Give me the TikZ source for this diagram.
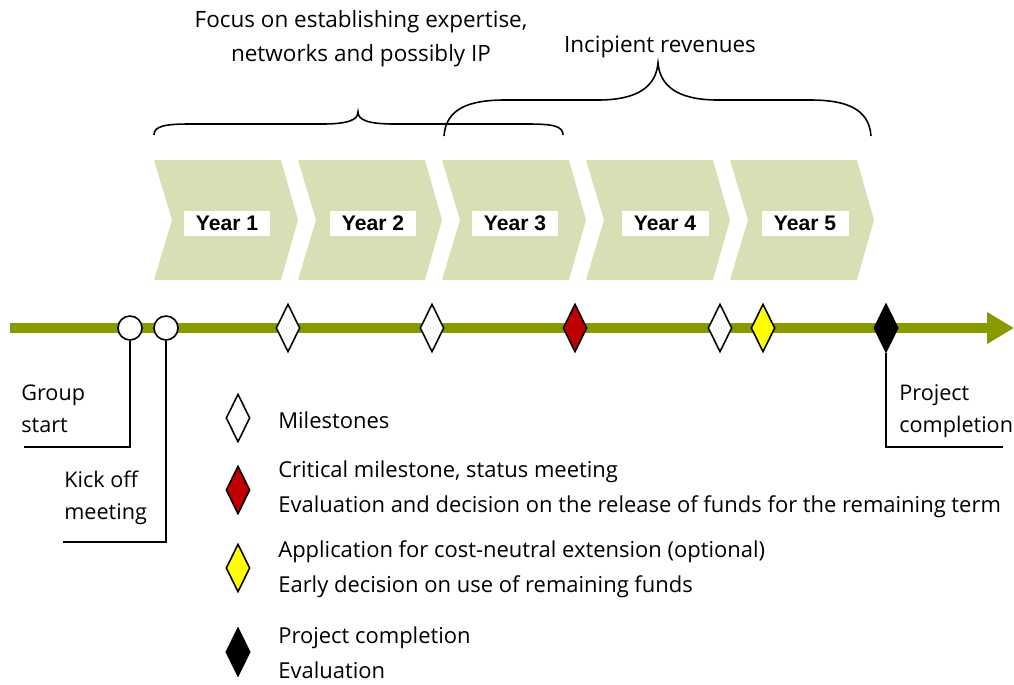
\documentclass[tikz,border=0pt]{standalone}
\usepackage{fontspec}
\setmainfont{Open Sans}
\newfontfamily\yearfont{Liberation Sans}
\usetikzlibrary{shapes.geometric,arrows.meta}
\definecolor{olivebar}{RGB}{137,153,0}
\definecolor{chev}{RGB}{216,223,181}
\definecolor{crit}{RGB}{192,0,0}
\definecolor{yel}{RGB}{255,255,0}
\begin{document}
\begin{tikzpicture}[x=0.02cm,y=-0.02cm,
 chevron/.style={fill=chev, draw=none},
 yearlabel/.style={fill=white, minimum width=1.74cm, minimum height=0.5cm, inner sep=0pt, font=\yearfont\bfseries\fontsize{12}{13}\selectfont},
 ms/.style={diamond, draw=black, line width=0.9pt, minimum width=0.48cm, minimum height=0.96cm, inner sep=0pt},
 evt/.style={circle, draw=black, line width=0.9pt, fill=white, minimum size=0.48cm, inner sep=0pt},
 lbl/.style={font=\fontsize{12.3}{18.1}\selectfont, align=left, inner sep=0pt, anchor=west},
 leg/.style={font=\fontsize{12.5}{19.8}\selectfont, align=left, inner sep=0pt, anchor=west},
 toptext/.style={font=\fontsize{12.8}{19.5}\selectfont, align=center, inner sep=0pt},
 conn/.style={draw=black, line width=0.9pt},
 brace/.style={draw=black, line width=0.9pt},
 timeline/.style={draw=olivebar, line width=5.7pt, -{Triangle[length=15.3pt,width=17pt]}}]

\useasboundingbox (0,0) rectangle (1014,684);

% chevrons
\foreach \L in {154,298,442,586,730}
  \path[chevron] (\L,160) -- ++(127,0) -- ++(17,60) -- ++(-17,60) -- ++(-127,0) -- ++(18,-60) -- cycle;

\node[yearlabel] (y1) at (227,223) {Year 1};
\node[yearlabel] (y2) at (373,223) {Year 2};
\node[yearlabel] (y3) at (515,223) {Year 3};
\node[yearlabel] (y4) at (665,223) {Year 4};
\node[yearlabel] (y5) at (805,223) {Year 5};

% braces
\draw[brace] (154,135) .. controls (154,126) and (165,124) .. (190,124) -- (322,124)
  .. controls (348,124) and (358,120) .. (358,112)
  .. controls (358,120) and (368,124) .. (394,124) -- (528,124)
  .. controls (553,124) and (563,126) .. (563,135);
\draw[brace] (444,136) .. controls (446,108) and (470,100) .. (505,100) -- (598,100)
  .. controls (640,100) and (656,85) .. (658,63)
  .. controls (660,85) and (676,100) .. (718,100) -- (810,100)
  .. controls (845,100) and (869,108) .. (871,136);

\node[toptext] (focus) at (361,39) {Focus on establishing expertise,\\networks and possibly IP};
\node[toptext] (incip) at (660,47) {Incipient revenues};

% timeline
\coordinate (tl0) at (10,328);
\coordinate (tl1) at (1014,328);
\draw[timeline] (tl0) -- (tl1);

\node[evt] (gs) at (130,328) {};
\node[evt] (ko) at (166,328) {};
\node[ms, fill=white] (m1) at (288,328) {};
\node[ms, fill=white] (m2) at (432,328) {};
\node[ms, fill=crit] (m3) at (575,328) {};
\node[ms, fill=white] (m4) at (720,328) {};
\node[ms, fill=yel] (m5) at (763,328) {};
\node[ms, fill=black] (pc) at (886,328) {};

% connectors
\coordinate (gsend) at (24,447);
\coordinate (koend) at (63,542);
\coordinate (pcend) at (1003,447);
\draw[conn] (gs.south) |- (gsend);
\draw[conn] (ko.south) |- (koend);
\draw[conn] (pc.south) |- (pcend);

\node[lbl] (gstxt) at (21,409) {Group\\start};
\node[lbl] (kotxt) at (64,498) {Kick off\\meeting};
\node[lbl] (pctxt) at (899,411) {Project\\completion};

% legend
\node[ms, fill=white] (l1) at (238,418) {};
\node[ms, fill=crit] (l2) at (238,490) {};
\node[ms, fill=yel] (l3) at (238,568) {};
\node[ms, fill=black] (l4) at (238,652) {};

\node[leg] (t1) at (278,420) {Milestones};
\node[leg] (t2) at (278,489) {Critical milestone, status meeting\\Evaluation and decision on the release of funds for the remaining term};
\node[leg] (t3) at (278,569) {Application for cost-neutral extension (optional)\\Early decision on use of remaining funds};
\node[leg] (t4) at (278,653) {Project completion\\Evaluation};
\end{tikzpicture}
\end{document}
